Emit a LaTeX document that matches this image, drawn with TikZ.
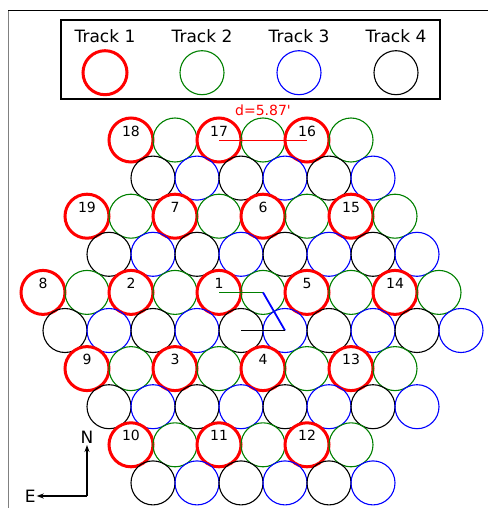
\documentclass[tikz,border=0pt]{standalone}
\usepackage{fontspec}
\setmainfont[Ligatures=TeXOff]{DejaVu Sans}
\usepackage{tikz}
\usetikzlibrary{arrows.meta, positioning, calc}

\definecolor{mplgreen}{RGB}{0,128,0}

\begin{document}
\begin{tikzpicture}[x=1pt, y=-1pt,
    rod/.style={circle, minimum size=44pt, inner sep=0pt},
    rodred/.style={rod, draw=red, line width=3pt},
    rodgreen/.style={rod, draw=mplgreen, line width=1.1pt},
    rodblue/.style={rod, draw=blue, line width=1.1pt},
    rodblack/.style={rod, draw=black, line width=1.1pt},
    num/.style={anchor=base, yshift=4pt, inner sep=0pt, font=\fontsize{14}{16}\selectfont},
    trk/.style={anchor=base, inner sep=0pt, font=\fontsize{17}{20}\selectfont},
    trace/.style={line width=1.8pt}]
    \useasboundingbox (0,0) rectangle (488,508);
    % Rahmen (nur oben und links)
    \draw[gray, line width=1pt] (8,11) -- (8,508);
    \draw[line width=1pt] (8,11) -- (488,11);
    % Legende
    \draw[line width=2pt] (60.7,20) rectangle (440,99.3);
    \foreach \k/\sty in {1/rodred, 2/rodgreen, 3/rodblue, 4/rodblack} {
        \node[trk] (lt\k) at ({105+97*(\k-1)}, 43) {Track \k};
        \node[\sty] (lc\k) at ({105+97*(\k-1)}, 72.7) {};
    }
    % Reihen: {name}{y}{x start}{paare-1}{stil gerade}{stil ungerade}
    \foreach \r/\y/\x/\m/\ca/\cb in {
        a/140/131/2/rodred/rodgreen,
        b/178.1/153/2/rodblack/rodblue,
        c/216.2/87/3/rodred/rodgreen,
        d/254.3/109/3/rodblack/rodblue,
        e/292.4/43/4/rodred/rodgreen,
        f/330.5/65/4/rodblack/rodblue,
        g/368.6/87/3/rodred/rodgreen,
        h/406.7/109/3/rodblack/rodblue,
        i/444.8/131/2/rodred/rodgreen,
        j/482.9/153/2/rodblack/rodblue} {
        \foreach \i [evaluate=\i as \j using int(2*\i),
                     evaluate=\i as \k using int(2*\i+1)] in {0,...,\m} {
            \node[\ca] (\r-\j) at ({\x+88*\i}, \y) {};
            \node[\cb] (\r-\k) at ({\x+88*\i+44}, \y) {};
        }
    }
    % Nummern
    \foreach \nm/\lbl in {a-0/18, a-2/17, a-4/16, c-0/19, c-2/7, c-4/6, c-6/15,
        e-0/8, e-2/2, e-4/1, e-6/5, e-8/14, g-0/9, g-2/3, g-4/4, g-6/13,
        i-0/10, i-2/11, i-4/12} {
        \node[num] (n\lbl) at (\nm) {\lbl};
    }
    % Abstand
    \draw[red, line width=1pt] (a-2.center) -- (a-4.center);
    \node[anchor=base, inner sep=0pt, red, font=\fontsize{14}{16}\selectfont] (dist) at (263,115) {d=5.87'};
    % Pfad 1 -> 2 -> 3 -> 4
    \draw[trace, mplgreen] (e-4.center) -- (e-5.center);
    \draw[trace, blue] (e-5.center) -- (f-5.center);
    \draw[trace, black] (f-5.center) -- (f-4.center);
    % Nordpfeil
    \coordinate (corner) at (87,496);
    \node[trk, anchor=south, inner sep=1pt] (north) at (87,445) {N};
    \node[trk, anchor=east, inner sep=1pt] (east) at (36.7,496) {E};
    \draw[line width=1.3pt, -{Stealth[length=7pt, width=5pt]}] (corner) -- (north.south);
    \draw[line width=1.3pt, -{Stealth[length=7pt, width=5pt]}] (corner) -- (east.east);
\end{tikzpicture}
\end{document}
